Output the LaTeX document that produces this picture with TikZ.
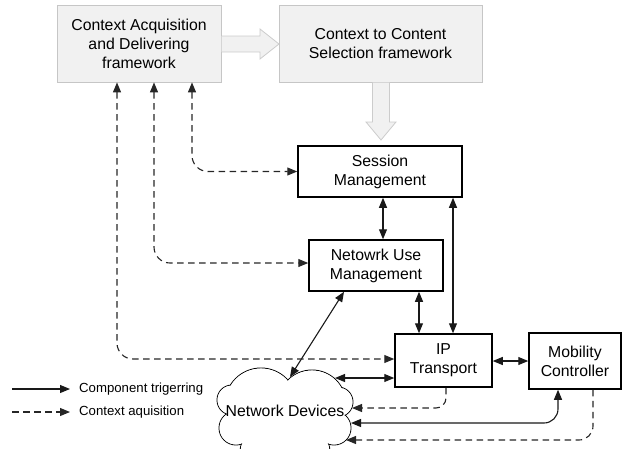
\documentclass[tikz,border=0pt]{standalone}
\usepackage{fontspec}
\setmainfont{Liberation Sans}
\usetikzlibrary{arrows.meta}

\begin{document}
\begin{tikzpicture}[x=1pt,y=-1pt,
  lbl/.style={font=\fontsize{15.8}{19}\selectfont, align=center, inner sep=0pt},
  framebox/.style={lbl, draw=gray!45, fill=gray!11, line width=0.8pt},
  compbox/.style={lbl, draw=black, fill=white, line width=1.5pt},
  fat/.style={draw=gray!40, fill=gray!11, line width=0.8pt},
  trig/.style={draw=black!90, line width=1.1pt},
  ctx/.style={draw=black!85, line width=1.1pt, dash pattern=on 6.5pt off 4.5pt},
  puff/.style={draw=black, line width=0.9pt},
  >={Triangle[length=10pt,width=8pt]},
  legtext/.style={font=\fontsize{13.2}{15}\selectfont, anchor=west, inner sep=0pt}
]
\useasboundingbox (0,0) rectangle (622,448);
\clip (0,0) rectangle (622,448);

% framework boxes
\node[framebox, minimum width=164pt, minimum height=77pt] (ca) at (139,43.5)
  {Context Acquisition\\and Delivering\\framework};
\node[framebox, minimum width=203pt, minimum height=77pt] (cc) at (380.5,43.5)
  {Context to Content\\Selection framework};

% block arrows between frameworks and towards the session layer
\draw[fat] (221.5,36) -- (260,36) -- (260,29) -- (279,44) -- (260,59) -- (260,52) -- (221.5,52);
\draw[fat] (372.5,82.5) -- (372.5,122) -- (366,122) -- (381,140) -- (396,122) -- (389.5,122) -- (389.5,82.5);

% component boxes
\node[compbox, minimum width=164pt, minimum height=51pt] (sm) at (380,171.5) {Session\\Management};
\node[compbox, minimum width=134pt, minimum height=51pt] (nu) at (376,265.5) {Netowrk Use\\Management};
\node[compbox, minimum width=97pt, minimum height=53pt] (ip) at (443.5,360.5) {IP\\Transport};
\node[compbox, minimum width=92pt, minimum height=56pt] (mc) at (575,361) {Mobility\\Controller};

% network cloud: outline of a union of puffs
\def\puffs{261/404/36, 312/404/34, 232/400/15, 236/428/17, 264/452/24, 306/452/24, 338/402/15, 334/428/17}
\foreach \cx/\cy/\r in \puffs { \draw[puff] (\cx,\cy) circle[radius=\r]; }
\fill[white] (285,418) ellipse[x radius=48, y radius=30];
\foreach \cx/\cy/\r in \puffs { \fill[white] (\cx,\cy) circle[radius=\r-0.55]; }
\node[lbl] (nd) at (285,411) {Network Devices};

% points on the cloud border
\coordinate (nd-a) at (290,377);
\coordinate (nd-b) at (335,378);
\coordinate (nd-c) at (352,408);
\coordinate (nd-d) at (351,423);
\coordinate (nd-e) at (346,440);

% component triggering
\draw[trig, <->] ([xshift=3pt]sm.south) -- ([xshift=3pt]sm.south |- nu.north);
\draw[trig, <->] ([xshift=43pt]nu.south) -- ([xshift=43pt]nu.south |- ip.north);
\draw[trig, <->] ([xshift=73pt]sm.south) -- ([xshift=73pt]sm.south |- ip.north);
\draw[trig, <->] ([xshift=-32pt]nu.south) -- (nd-a);
\draw[trig, <->] (nd-b) -- (nd-b -| ip.west);
\draw[trig, <->] (ip.east |- 0,361) -- (mc.west |- 0,361);
\draw[trig, <->, rounded corners=14pt] ([xshift=-17pt]mc.south) |- (nd-d);

% context acquisition
\draw[ctx, <->, rounded corners=16pt] ([xshift=-22pt]ca.south) |- ([yshift=1.5pt]ip.west);
\draw[ctx, <->, rounded corners=16pt] ([xshift=15pt]ca.south) |- ([yshift=2.5pt]nu.west);
\draw[ctx, <->, rounded corners=16pt] ([xshift=53pt]ca.south) |- (sm.west);
\draw[ctx, ->, rounded corners=10pt] ([xshift=2.5pt]ip.south) |- (nd-c);
\draw[ctx, ->, rounded corners=14pt] ([xshift=18pt]mc.south) |- (nd-e);

% legend
\coordinate (la) at (12,389);
\coordinate (lb) at (70,389);
\coordinate (lc) at (12,412);
\coordinate (ld) at (70,412);
\draw[trig, ->] (la) -- (lb);
\draw[ctx, ->] (lc) -- (ld);
\node[legtext] (lt1) at (79,389) {Component trigerring};
\node[legtext] (lt2) at (79,412) {Context aquisition};
\end{tikzpicture}
\end{document}
